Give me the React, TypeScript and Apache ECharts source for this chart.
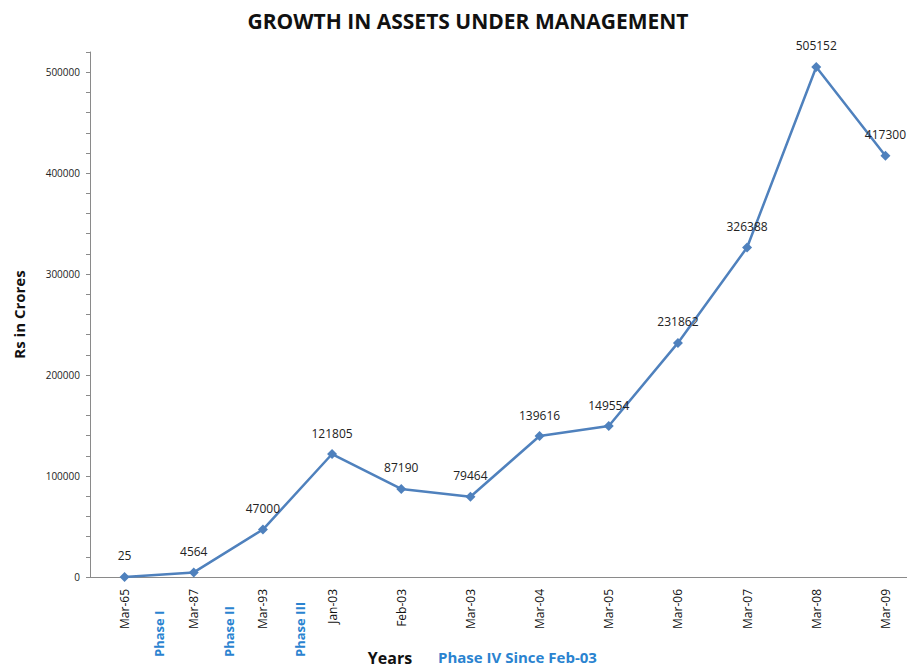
import React, { useEffect, useRef } from "react";
import * as echarts from "echarts";

const categories = ["Mar-65", "Mar-87", "Mar-93", "Jan-03", "Feb-03", "Mar-03", "Mar-04", "Mar-05", "Mar-06", "Mar-07", "Mar-08", "Mar-09"];
const aumValues = [25, 4564, 47000, 121805, 87190, 79464, 139616, 149554, 231862, 326388, 505152, 417300];
const phaseLabels = ["Phase I", "Phase II", "Phase III"];
const phaseX = [159, 229, 300];

const FONT = "'Open Sans', 'Noto Sans', sans-serif";
const BLUE = "#2A83D0";

export default function App() {
  const ref = useRef<HTMLDivElement>(null);
  useEffect(() => {
    if (!ref.current) return;
    const chart = echarts.init(ref.current, null, { renderer: "svg" });
    chart.setOption({
      animation: false,
      backgroundColor: "#ffffff",
      textStyle: { fontFamily: FONT },
      title: {
        text: "GROWTH IN ASSETS UNDER MANAGEMENT",
        left: 463,
        textAlign: "center",
        top: 5,
        textStyle: { fontSize: 21, fontWeight: "bold", color: "#111", fontFamily: FONT },
      },
      grid: { left: 90, top: 52, width: 830, height: 525 },
      xAxis: {
        type: "category",
        data: categories,
        boundaryGap: true,
        axisLine: { lineStyle: { color: "#8a8a8a", width: 1 } },
        axisTick: { show: false },
        axisLabel: { rotate: 90, margin: 12, fontSize: 12, color: "#111", fontFamily: FONT, interval: 0 },
      },
      yAxis: {
        type: "value",
        min: 0,
        max: 520000,
        interval: 20000,
        name: "Rs in Crores",
        nameLocation: "middle",
        nameRotate: 90,
        nameGap: 64,
        nameTextStyle: { fontSize: 15, fontWeight: "bold", color: "#111", fontFamily: FONT },
        axisLine: { show: true, lineStyle: { color: "#8a8a8a" } },
        axisTick: { show: true, length: 4, lineStyle: { color: "#8a8a8a" } },
        splitLine: { show: false },
        axisLabel: {
          fontSize: 10,
          color: "#222",
          margin: 10,
          formatter: (v: number) => (v % 100000 === 0 ? String(v) : ""),
        },
      },
      series: [
        {
          type: "line",
          data: aumValues,
          symbol: "diamond",
          symbolSize: 10,
          lineStyle: { color: "#4F81BD", width: 2.5 },
          itemStyle: { color: "#4F81BD" },
          label: {
            show: true,
            position: "top",
            distance: 10,
            fontSize: 12,
            color: "#222",
            fontFamily: FONT,
          },
        },
      ],
      graphic: [
        ...phaseLabels.map((t, i) => ({
          type: "text",
          x: phaseX[i],
          y: 657,
          rotation: Math.PI / 2,
          style: {
            text: t,
            fontSize: 13,
            fontWeight: "bold",
            fill: BLUE,
            fontFamily: FONT,
            align: "left",
            verticalAlign: "middle",
          },
        })),
        {
          type: "text",
          x: 390,
          y: 658,
          style: { text: "Years", fontSize: 16, fontWeight: "bold", fill: "#111", fontFamily: FONT, align: "center", verticalAlign: "middle" },
        },
        {
          type: "text",
          x: 438,
          y: 657,
          style: { text: "Phase IV Since Feb-03", fontSize: 15, fontWeight: "bold", fill: BLUE, fontFamily: FONT, align: "left", verticalAlign: "middle" },
        },
      ],
    });
    return () => chart.dispose();
  }, []);
  return (
    <div style={{ position: "absolute", left: 0, top: 0, width: 907, height: 668, overflow: "hidden" }}>
      <div ref={ref} style={{ width: 925, height: 668 }} />
    </div>
  );
}
